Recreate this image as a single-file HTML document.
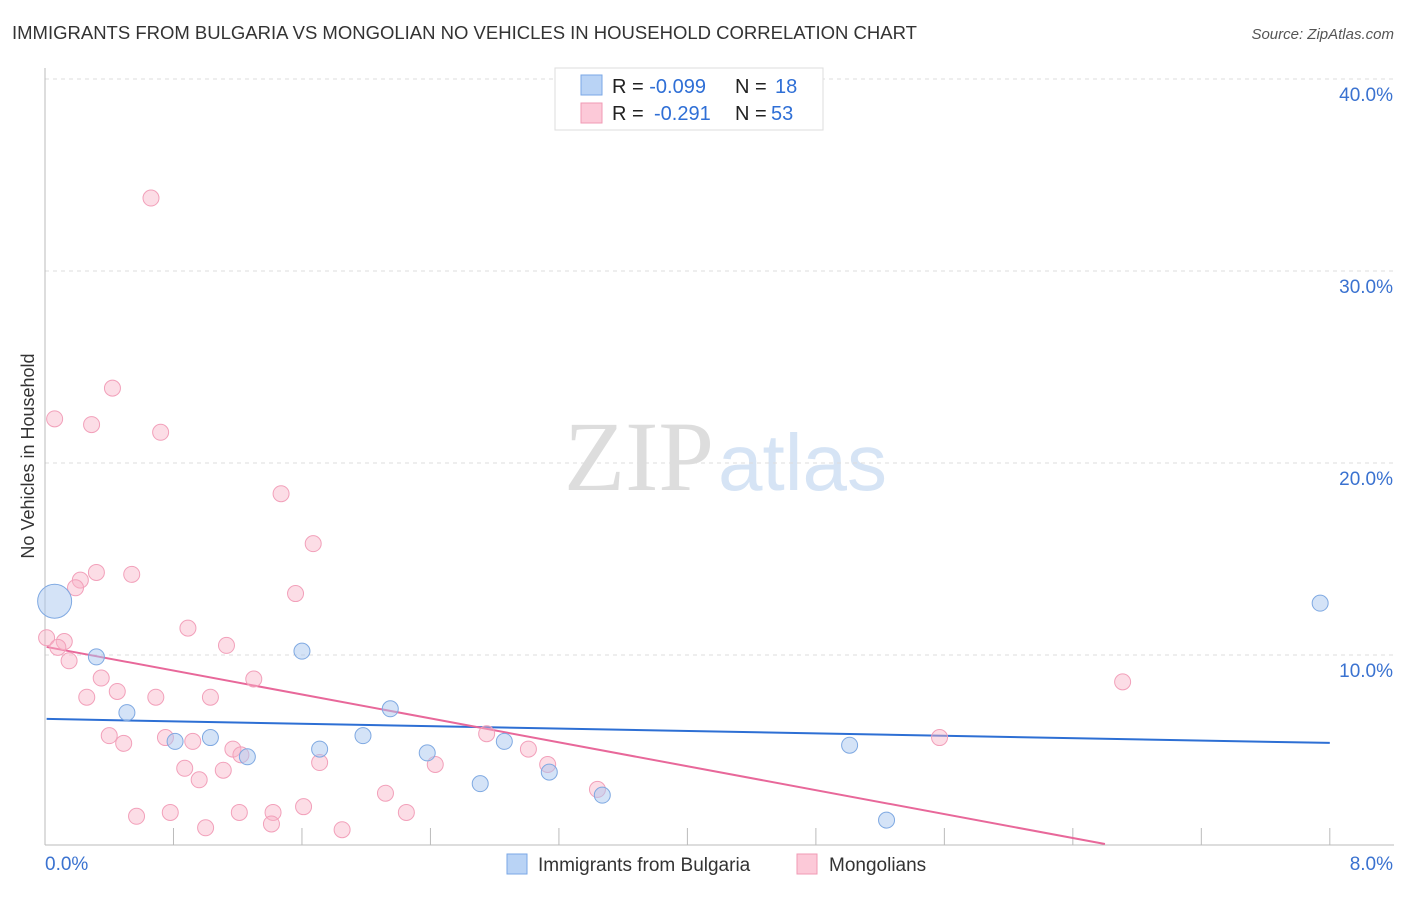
<!DOCTYPE html>
<html><head><meta charset="utf-8"><style>
body{margin:0;background:#fff;font-family:"Liberation Sans",sans-serif;}
svg text{font-family:"Liberation Sans",sans-serif;}
</style></head><body>
<svg id="chart" width="1406" height="892" xmlns="http://www.w3.org/2000/svg">
<text x="12" y="39" font-size="18.5" fill="#333">IMMIGRANTS FROM BULGARIA VS MONGOLIAN NO VEHICLES IN HOUSEHOLD CORRELATION CHART</text>
<text x="1394" y="39" font-size="15" fill="#555" font-style="italic" text-anchor="end">Source: ZipAtlas.com</text>
<text x="714" y="490" font-size="100" fill="#ddd" text-anchor="end" style="font-family:'Liberation Serif',serif">ZIP</text>
<text x="718" y="490" font-size="80" fill="#d6e4f5">atlas</text>
<text transform="translate(34,456) rotate(-90)" font-size="18" fill="#333" text-anchor="middle">No Vehicles in Household</text>
<g id="grid"></g><g id="axes"></g><g id="lines"></g><g id="pts"></g>
<g>
<rect x="555" y="68" width="268" height="62" fill="#fff" stroke="#ddd"/>
<rect x="581" y="75" width="21" height="20" fill="#b9d3f5" stroke="#7aa7e6"/>
<rect x="581" y="103" width="21" height="20" fill="#fcc9d8" stroke="#f09ab4"/>
<text x="612" y="93" font-size="20" fill="#222">R = <tspan fill="#2f6fd6">-0.099</tspan><tspan x="735">N = </tspan><tspan x="775" fill="#2f6fd6">18</tspan></text>
<text x="612" y="120" font-size="20" fill="#222">R = <tspan x="654" fill="#2f6fd6">-0.291</tspan><tspan x="735">N = </tspan><tspan x="771" fill="#2f6fd6">53</tspan></text>
</g>
<g>
<rect x="507" y="854" width="20" height="20" fill="#b9d3f5" stroke="#7aa7e6"/>
<text x="538" y="871" font-size="19" fill="#333">Immigrants from Bulgaria</text>
<rect x="797" y="854" width="20" height="20" fill="#fcc9d8" stroke="#f09ab4"/>
<text x="829" y="871" font-size="19" fill="#333">Mongolians</text>
</g>
</svg>
<script>
const blueX=[0.06,0.32,0.51,0.81,1.03,1.26,1.60,1.71,1.98,2.15,2.38,2.71,2.86,3.14,3.47,5.01,5.24,7.94];
const blueY=[12.8,9.9,7.0,5.5,5.7,4.7,10.2,5.1,5.8,7.2,4.9,3.3,5.5,3.9,2.7,5.3,1.4,12.7];
const blueR=[17,8,8,8,8,8,8,8,8,8,8,8,8,8,8,8,8,8];
const pinkX=[0.66,0.42,0.06,0.29,0.72,1.47,1.67,0.32,0.54,0.22,0.19,1.56,0.89,0.01,0.12,0.08,1.13,0.15,0.35,1.30,0.45,0.26,0.69,1.03,6.71,0.40,0.75,0.49,0.92,1.17,1.22,2.75,3.01,5.57,0.87,1.11,1.71,2.43,3.13,0.96,3.44,2.12,1.61,2.25,0.57,0.78,1.21,1.42,1.00,1.41,1.85];
const pinkY=[33.8,23.9,22.3,22.0,21.6,18.4,15.8,14.3,14.2,13.9,13.5,13.2,11.4,10.9,10.7,10.4,10.5,9.7,8.8,8.75,8.1,7.8,7.8,7.8,8.6,5.8,5.7,5.4,5.5,5.1,4.8,5.9,5.1,5.7,4.1,4.0,4.4,4.3,4.3,3.5,3.0,2.8,2.1,1.8,1.6,1.8,1.8,1.8,1.0,1.2,0.9];
const blueTrend=[6.67,5.42];
const pinkTrend=[10.42,-1.555];
const yTicks=[10,20,30,40];
const yTickLabels=["10.0%","20.0%","30.0%","40.0%"];
const xTickVals=[0,0.8,1.6,2.4,3.2,4.0,4.8,5.6,6.4,7.2,8.0];
const NS="http://www.w3.org/2000/svg";
const xs=v=>45+v*160.6, ys=v=>847-v*19.2;
function mk(p,t,a){const e=document.createElementNS(NS,t);for(const k in a)e.setAttribute(k,a[k]);document.getElementById(p).appendChild(e);return e;}
yTicks.forEach((t,i)=>{
 const l=mk('grid','line',{x1:45,x2:1394,y1:ys(t),y2:ys(t),stroke:'#ddd','stroke-dasharray':'4,4'});
 
 
 const tx=mk('grid','text',{x:1393,y:ys(t)+22,'font-size':19,fill:'#3a72d0','text-anchor':'end'});tx.textContent=yTickLabels[i];
 
 
});
const topLine=mk('grid','line',{x1:45,x2:1394,y1:79,y2:79,stroke:'#ddd','stroke-dasharray':'4,4'});


const ya=mk('axes','line',{x1:45,x2:45,y1:68,y2:845,stroke:'#bbb'});


const xa=mk('axes','line',{x1:45,x2:1394,y1:845,y2:845,stroke:'#bbb'});


xTickVals.forEach(v=>{const t=mk('axes','line',{x1:xs(v),x2:xs(v),y1:828,y2:845,stroke:'#bbb'});
 
 });
const xl0=mk('axes','text',{x:45,y:870,'font-size':19,fill:'#3a72d0'});xl0.textContent='0.0%';


const xl1=mk('axes','text',{x:1393,y:870,'font-size':19,fill:'#3a72d0','text-anchor':'end'});xl1.textContent='8.0%';


pinkX.forEach((x,i)=>{const c=mk('pts','circle',{cx:xs(x),cy:ys(pinkY[i]),r:8,fill:'rgba(248,180,200,0.45)',stroke:'#f2a0ba','stroke-width':1});
 
 });
blueX.forEach((x,i)=>{const c=mk('pts','circle',{cx:xs(x),cy:ys(blueY[i]),r:blueR[i],fill:'rgba(170,200,240,0.5)',stroke:'#7fa9e2','stroke-width':1});
 
 });
const bl=mk('lines','line',{x1:xs(0.01),y1:ys(blueTrend[0]),x2:xs(8),y2:ys(blueTrend[1]),stroke:'#2d6fd4','stroke-width':2});


const pEnd=6.6;
const pl=mk('lines','line',{x1:xs(0.01),y1:ys(pinkTrend[0]),x2:xs(pEnd),y2:ys(pinkTrend[0]+pinkTrend[1]*pEnd),stroke:'#e8689a','stroke-width':2});


</script>
</body></html>
